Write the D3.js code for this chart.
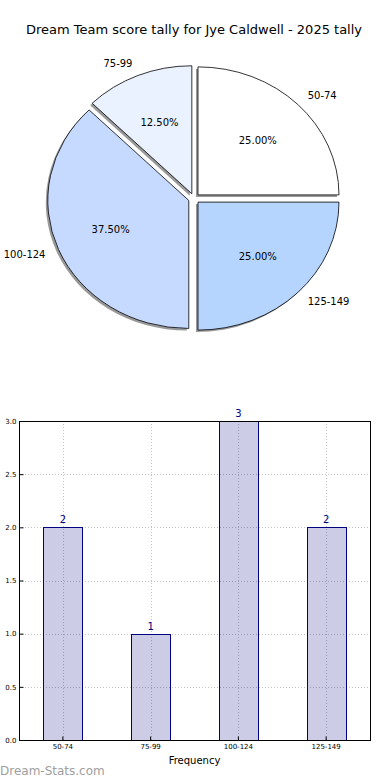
<!DOCTYPE html>
<html>
<head>
<meta charset="utf-8">
<script src="https://cdn.jsdelivr.net/npm/d3@7"></script>
<style>
  body { margin: 0; background: #fff; }
  svg { display: block; font-family: "DejaVu Sans", sans-serif; }
</style>
</head>
<body>
<div id="chart"></div>
<script>
// Data
const title = 'Dream Team score tally for Jye Caldwell - 2025 tally'
const categories = ['50-74', '75-99', '100-124', '125-149']
const counts = [2, 1, 3, 2]
const sliceColors = ['#ffffff', '#eaf1ff', '#c6d9ff', '#b5d5ff']
const yTicks = [0, 0.5, 1, 1.5, 2, 2.5, 3]
const xLabel = 'Frequency'
const watermark = 'Dream-Stats.com'

;(({ selectorForRoot, width, height }) => {
  const svg = d3.select(selectorForRoot)
    .append('svg')
    .attr('width', width)
    .attr('height', height)

  // Title
  svg.append('text')
    .attr('x', 194)
    .attr('y', 34)
    .attr('text-anchor', 'middle')
    .style('font-size', '13px')
    .text(title)

  // ---- Pie (elliptical, exploded, matplotlib-style: start at 3 o'clock, ccw)
  const cx = 194, cy = 198.5, rx = 141, ry = 128, explode = 0.04
  const total = d3.sum(counts)
  const pie = d3.pie().sort(null).startAngle(Math.PI / 2).endAngle(Math.PI / 2 - 2 * Math.PI)
  const arcs = pie(counts)
  const arc = d3.arc().innerRadius(0).outerRadius(100)
  const unit = (a, r) => [Math.sin(a) * r, -Math.cos(a) * r]

  const slices = arcs.map((d, i) => {
    const mid = (d.startAngle + d.endAngle) / 2
    const [ex, ey] = unit(mid, explode)
    return { d, i, mid, ox: cx + ex * rx, oy: cy + ey * ry }
  })

  const pieG = svg.append('g')
  // shadows
  pieG.selectAll('path.shadow')
    .data(slices)
    .join('path')
    .attr('class', 'shadow')
    .attr('transform', s => `translate(${s.ox - 2},${s.oy + 2}) scale(${rx / 100},${ry / 100})`)
    .attr('d', s => arc(s.d))
    .attr('fill', '#808080')
    .attr('fill-opacity', 0.8)
  // slices
  pieG.selectAll('path.slice')
    .data(slices)
    .join('path')
    .attr('class', 'slice')
    .attr('transform', s => `translate(${s.ox},${s.oy}) scale(${rx / 100},${ry / 100})`)
    .attr('d', s => arc(s.d))
    .attr('fill', s => sliceColors[s.i])
    .attr('stroke', '#000')
    .attr('stroke-width', 0.8)
    .attr('vector-effect', 'non-scaling-stroke')
    .attr('stroke-linejoin', 'miter')

  // category labels
  pieG.selectAll('text.cat')
    .data(slices)
    .join('text')
    .attr('class', 'cat')
    .attr('x', s => s.ox + unit(s.mid, 1.1)[0] * rx)
    .attr('y', s => s.oy + unit(s.mid, 1.1)[1] * ry)
    .attr('dy', '0.35em')
    .attr('text-anchor', s => Math.sin(s.mid) > 0 ? 'start' : 'end')
    .style('font-size', '10px')
    .text(s => categories[s.i])
  // percentages
  pieG.selectAll('text.pct')
    .data(slices)
    .join('text')
    .attr('class', 'pct')
    .attr('x', s => s.ox + unit(s.mid, 0.6)[0] * rx)
    .attr('y', s => s.oy + unit(s.mid, 0.6)[1] * ry)
    .attr('dy', '0.35em')
    .attr('text-anchor', 'middle')
    .style('font-size', '10px')
    .text(s => (counts[s.i] / total * 100).toFixed(2) + '%')

  // ---- Bar chart
  const left = 19, right = 370, top = 421, bottom = 740
  const x = d3.scaleBand().domain(categories).range([left, right])
  const y = d3.scaleLinear().domain([0, 3]).range([bottom, top])
  const barW = 39
  const bars = svg.append('g')

  // grid
  const grid = bars.append('g')
    .attr('stroke', '#c4c4c4')
    .attr('stroke-width', 1)
    .attr('stroke-dasharray', '1,2')
  grid.selectAll('line.h')
    .data(yTicks)
    .join('line')
    .attr('x1', left).attr('x2', right)
    .attr('y1', d => Math.round(y(d)) + 0.5).attr('y2', d => Math.round(y(d)) + 0.5)
  grid.selectAll('line.v')
    .data(categories)
    .join('line')
    .attr('x1', d => Math.round(x(d) + x.bandwidth() / 2) + 0.5)
    .attr('x2', d => Math.round(x(d) + x.bandwidth() / 2) + 0.5)
    .attr('y1', top).attr('y2', bottom)

  // bars
  bars.selectAll('rect.bar')
    .data(counts)
    .join('rect')
    .attr('class', 'bar')
    .attr('x', (d, i) => Math.round(x(categories[i]) + x.bandwidth() / 2 - barW / 2) + 0.5)
    .attr('y', d => Math.round(y(d)) + 0.5)
    .attr('width', barW)
    .attr('height', d => Math.round(y(0)) - Math.round(y(d)))
    .attr('fill', '#000080')
    .attr('fill-opacity', 0.2)
    .attr('stroke', '#000080')
    .attr('stroke-width', 1)

  // value labels
  bars.selectAll('text.val')
    .data(counts)
    .join('text')
    .attr('class', 'val')
    .attr('x', (d, i) => x(categories[i]) + x.bandwidth() / 2)
    .attr('y', d => y(d) - 4)
    .attr('text-anchor', 'middle')
    .attr('fill', '#000080')
    .style('font-size', '10px')
    .text(d => d)

  // axes
  const yAxis = d3.axisLeft(y).tickValues(yTicks).tickFormat(d3.format('.1f')).tickSize(-4).tickPadding(3)
  const xAxis = d3.axisBottom(x).tickSize(-4).tickPadding(4)
  const yg = svg.append('g')
    .attr('transform', `translate(${left + 0.5},0)`)
    .call(yAxis)
  const xg = svg.append('g')
    .attr('transform', `translate(0,${bottom + 0.5})`)
    .call(xAxis)
  ;[yg, xg].forEach(g => {
    g.select('.domain').remove()
    g.selectAll('text').style('font-size', '7px').style('font-family', '"DejaVu Sans", sans-serif').attr('fill', '#000')
    g.selectAll('line').attr('stroke', '#000')
  })
  // frame
  svg.append('rect')
    .attr('x', left + 0.5).attr('y', top + 0.5)
    .attr('width', right - left).attr('height', bottom - top)
    .attr('fill', 'none').attr('stroke', '#000').attr('stroke-width', 1)

  // x label
  svg.append('text')
    .attr('x', (left + right) / 2)
    .attr('y', 764)
    .attr('text-anchor', 'middle')
    .style('font-size', '10px')
    .text(xLabel)

  // watermark
  svg.append('text')
    .attr('x', 0)
    .attr('y', 775)
    .attr('fill', '#a0a0a0')
    .style('font-size', '12px')
    .text(watermark)
})({
  selectorForRoot: '#chart',
  width: 390,
  height: 780
})
</script>
</body>
</html>
